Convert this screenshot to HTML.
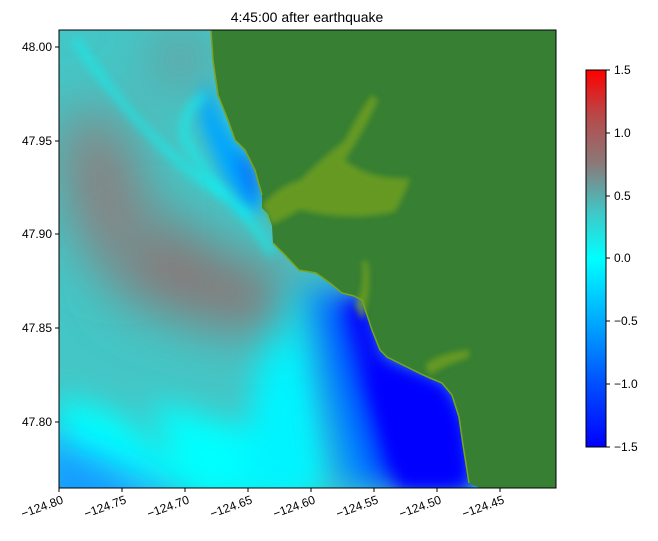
<!DOCTYPE html>
<html><head><meta charset="utf-8"><style>
body{margin:0;background:#fff;}
svg{display:block;font-family:"Liberation Sans","DejaVu Sans",sans-serif;}
</style></head><body>
<svg width="658" height="541" viewBox="0 0 658 541" xmlns="http://www.w3.org/2000/svg">
<defs>
<clipPath id="c"><rect x="59" y="30" width="497" height="458"/></clipPath>
<filter id="b30" x="-50%" y="-50%" width="200%" height="200%"><feGaussianBlur stdDeviation="28"/></filter>
<filter id="b15" x="-50%" y="-50%" width="200%" height="200%"><feGaussianBlur stdDeviation="15"/></filter>
<filter id="b8" x="-50%" y="-50%" width="200%" height="200%"><feGaussianBlur stdDeviation="8"/></filter>
<filter id="b5" x="-50%" y="-50%" width="200%" height="200%"><feGaussianBlur stdDeviation="5"/></filter>
<filter id="b3" x="-50%" y="-50%" width="200%" height="200%"><feGaussianBlur stdDeviation="3"/></filter>
<linearGradient id="cb" x1="0" y1="1" x2="0" y2="0">
<stop offset="0" stop-color="#0000ff"/>
<stop offset="0.17" stop-color="#0050ff"/>
<stop offset="0.33" stop-color="#00a8ff"/>
<stop offset="0.5" stop-color="#00ffff"/>
<stop offset="0.62" stop-color="#40c8c8"/>
<stop offset="0.75" stop-color="#8a7a7a"/>
<stop offset="0.88" stop-color="#b84848"/>
<stop offset="1" stop-color="#ff0000"/>
</linearGradient>
</defs>
<text x="307" y="22" font-size="14" text-anchor="middle">4:45:00 after earthquake</text>
<g clip-path="url(#c)">
<rect x="59" y="30" width="497" height="458" fill="#44c6c6"/>
<g filter="url(#b30)">
<ellipse cx="105" cy="190" rx="40" ry="85" fill="#8a8080" transform="rotate(-15 105 190)"/>
<ellipse cx="180" cy="60" rx="22" ry="25" fill="#887e7e"/>
</g>
<g filter="url(#b15)">
<polygon points="59,395 120,415 200,488 59,488" fill="#00ffff"/>
<polygon points="150,400 250,430 320,500 190,500" fill="#00ffff"/>
<polygon points="270,280 310,300 330,488 240,488" fill="#00f4ff"/>
</g>
<g filter="url(#b15)">
<polygon points="40,440 110,470 160,520 40,520" fill="#0a80ff"/>
<polygon points="40,425 150,470 210,520 40,520" fill="#20b0ff" opacity="0.6"/>
</g>
<g filter="url(#b30)">
<ellipse cx="215" cy="290" rx="85" ry="36" fill="#8a7474" transform="rotate(12 215 290)"/>
<ellipse cx="165" cy="265" rx="50" ry="45" fill="#887878"/>
</g>
<g filter="url(#b15)">
<polygon points="305,280 330,295 355,340 380,488 340,488 318,380" fill="#0090ff"/>
<polygon points="325,290 350,296 365,300 380,360 420,375 445,385 462,420 470,488 375,488 345,380" fill="#0000ff"/>
</g>
<g filter="url(#b8)">
<polygon points="345,300 365,305 380,360 420,375 445,385 462,420 470,488 400,488 370,380" fill="#0000ff"/>
<polygon points="205,80 225,125 238,145 250,160 260,195 262,212 245,210 222,175 200,120" fill="#00a4ff"/>
<polygon points="238,145 252,165 262,200 250,195 240,165" fill="#0050ff"/>
</g>
<g filter="url(#b5)" fill="none" stroke="#00ffff" stroke-width="5" opacity="0.8">
<path d="M75 40 Q150 150 230 200 Q260 230 272 255"/>
<path d="M205 95 Q180 110 185 140 Q215 190 250 215"/>
</g>
<path fill="#367f33" d="M211 30 L213 60 L218 95 L228 120 L235 140 L245 150 L255 170 L262 195 L262 208 L268 214 L272 226 L273 243 L285 255 L299 270 L316 273 L330 283 L342 293 L354 296 L362 300 L372 330 L380 350 L387 357 L405 366 L419 373 L430 378 L442 383 L452 395 L459 417 L463 445 L469 483 L480 488 L556 488 L556 30 Z"/>
<g fill="#7aa51c" opacity="0.7" filter="url(#b3)">
<path d="M262 205 Q280 185 300 180 Q320 160 345 140 Q360 110 372 95 L378 100 Q365 130 345 160 Q370 180 410 178 Q405 195 395 212 Q350 222 300 210 Q282 220 272 225 Z"/>
<path d="M355 305 Q365 290 362 260 L368 262 Q372 295 362 320 Z"/>
<path d="M425 365 Q440 352 470 350 L468 358 Q445 365 430 375 Z"/>
</g>
<path fill="none" stroke="#7aa51c" stroke-width="1.5" d="M211 30 L213 60 L218 95 L228 120 L235 140 L245 150 L255 170 L262 195 M273 243 L285 255 L299 270 L316 273 L330 283 L342 293 L354 296 L362 300 L372 330 L380 350 L387 357 L405 366 L419 373 L430 378 L442 383 L452 395 L459 417 L463 445 L469 483"/>
</g>
<rect x="59" y="30" width="497" height="458" fill="none" stroke="#000" stroke-width="1"/>
<g font-size="12" fill="#000">
<g stroke="#000">
<line x1="55" y1="47" x2="59" y2="47"/><line x1="55" y1="141" x2="59" y2="141"/><line x1="55" y1="234" x2="59" y2="234"/><line x1="55" y1="328" x2="59" y2="328"/><line x1="55" y1="422" x2="59" y2="422"/>
</g>
<text x="52" y="51" text-anchor="end">48.00</text>
<text x="52" y="145" text-anchor="end">47.95</text>
<text x="52" y="238" text-anchor="end">47.90</text>
<text x="52" y="332" text-anchor="end">47.85</text>
<text x="52" y="426" text-anchor="end">47.80</text>
<g stroke="#000">
<line x1="59" y1="488" x2="59" y2="492"/><line x1="122" y1="488" x2="122" y2="492"/><line x1="185" y1="488" x2="185" y2="492"/><line x1="248" y1="488" x2="248" y2="492"/><line x1="311" y1="488" x2="311" y2="492"/><line x1="374" y1="488" x2="374" y2="492"/><line x1="437" y1="488" x2="437" y2="492"/><line x1="500" y1="488" x2="500" y2="492"/>
</g>
<text transform="translate(64 503) rotate(-20)" text-anchor="end">−124.80</text>
<text transform="translate(127 503) rotate(-20)" text-anchor="end">−124.75</text>
<text transform="translate(190 503) rotate(-20)" text-anchor="end">−124.70</text>
<text transform="translate(253 503) rotate(-20)" text-anchor="end">−124.65</text>
<text transform="translate(316 503) rotate(-20)" text-anchor="end">−124.60</text>
<text transform="translate(379 503) rotate(-20)" text-anchor="end">−124.55</text>
<text transform="translate(442 503) rotate(-20)" text-anchor="end">−124.50</text>
<text transform="translate(505 503) rotate(-20)" text-anchor="end">−124.45</text>
</g>
<rect x="586" y="70" width="20" height="377" fill="url(#cb)" stroke="#000" stroke-width="1"/>
<g stroke="#000">
<line x1="606" y1="70" x2="610" y2="70"/><line x1="606" y1="133" x2="610" y2="133"/><line x1="606" y1="196" x2="610" y2="196"/><line x1="606" y1="258" x2="610" y2="258"/><line x1="606" y1="321" x2="610" y2="321"/><line x1="606" y1="384" x2="610" y2="384"/><line x1="606" y1="447" x2="610" y2="447"/>
</g>
<g font-size="12">
<text x="614" y="74">1.5</text><text x="614" y="137">1.0</text><text x="614" y="200">0.5</text><text x="614" y="262">0.0</text><text x="614" y="325">−0.5</text><text x="614" y="388">−1.0</text><text x="614" y="451">−1.5</text>
</g>
</svg>
</body></html>
